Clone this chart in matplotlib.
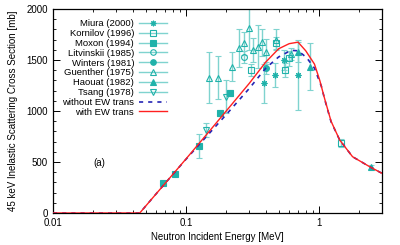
import matplotlib
matplotlib.use("Agg")
import matplotlib.pyplot as plt
from matplotlib.lines import Line2D

plt.rcParams['font.family'] = ['Liberation Sans', 'DejaVu Sans']
plt.rcParams['font.size'] = 7

TEAL = '#20b2aa'
TEAL_LIGHT = '#7fd3cf'

# Evaluated curves
E_red = [0.01, 0.045, 0.07, 0.1, 0.15, 0.2, 0.3, 0.4, 0.5, 0.6, 0.7, 0.8, 0.93, 1.02, 1.11, 1.24, 1.44, 1.8, 2.42, 3.0]
xs_red = [0, 0, 292, 528, 800, 995, 1270, 1480, 1610, 1660, 1675, 1590, 1460, 1300, 1120, 900, 716, 552, 454, 389]
E_blue = [0.01, 0.045, 0.07, 0.1, 0.15, 0.2, 0.3, 0.4, 0.5, 0.62, 0.7, 0.81, 0.93, 1.05, 1.11, 1.24, 1.44, 1.8, 2.42, 3.0]
xs_blue = [0, 0, 292, 525, 780, 960, 1220, 1420, 1530, 1595, 1590, 1525, 1420, 1240, 1115, 895, 716, 552, 454, 389]

# Experimental data
miura_E = [0.39, 0.47, 0.55, 0.70]
miura_y = [1272, 1353, 1500, 1353]
miura_err = [190, 120, 100, 340]

kornilov_E = [0.31, 0.475, 0.56, 0.60, 1.48]
kornilov_y = [1400, 1663, 1402, 1516, 683]
kornilov_err = [60, 60, 70, 70, 40]

moxon_E = [0.0675, 0.0826, 0.126, 0.18, 0.214]
moxon_y = [291, 382, 657, 977, 1173]
moxon_err = [15, 15, 120, 30, 30]

litv_E = [0.273]
litv_y = [1533]
litv_err = [60]

winters_E = [0.40]
winters_y = [1418]
winters_err = [60]

guenther_E = [0.150, 0.175, 0.224, 0.252, 0.273, 0.299, 0.321, 0.35, 0.377, 0.40, 0.475, 0.62]
guenther_y = [1327, 1327, 1435, 1615, 1663, 1810, 1598, 1630, 1673, 1581, 1700, 1560]
guenther_err = [250, 210, 140, 185, 115, 210, 120, 210, 130, 120, 100, 60]

haouat_E = [0.70, 0.86, 2.49]
haouat_y = [1577, 1435, 454]
haouat_err = [100, 230, 20]

tsang_E = [0.143, 0.20]
tsang_y = [814, 1140]
tsang_err = [70, 160]

fig = plt.figure(figsize=(4.0, 2.45), dpi=100)
ax = fig.add_axes([53/400, (245-213)/245, (382-53)/400, (213-9)/245])

datasets = [
    ("Miura (2000)", miura_E, miura_y, miura_err, (8, 2, 0), 'none'),
    ("Kornilov (1996)", kornilov_E, kornilov_y, kornilov_err, 's', 'none'),
    ("Moxon (1994)", moxon_E, moxon_y, moxon_err, 's', TEAL),
    ("Litvinskii (1985)", litv_E, litv_y, litv_err, 'o', 'none'),
    ("Winters (1981)", winters_E, winters_y, winters_err, 'o', TEAL),
    ("Guenther (1975)", guenther_E, guenther_y, guenther_err, '^', 'none'),
    ("Haouat (1982)", haouat_E, haouat_y, haouat_err, '^', TEAL),
    ("Tsang (1978)", tsang_E, tsang_y, tsang_err, 'v', 'none'),
]

handles = []
for label, E, y, err, m, fc in datasets:
    ax.errorbar(E, y, yerr=err, fmt='none', ecolor=TEAL_LIGHT, elinewidth=1.0,
                capsize=2.0, capthick=0.8, zorder=2)
    ax.plot(E, y, linestyle='none', marker=m, markersize=4.2, markeredgewidth=0.8,
            markerfacecolor=fc, markeredgecolor=TEAL, color=TEAL, zorder=3)
    handles.append(Line2D([], [], color=TEAL_LIGHT, lw=1.0, marker=m, markersize=4,
                          markerfacecolor=fc, markeredgecolor=TEAL, markeredgewidth=0.8))

ax.plot(E_blue, xs_blue, color='#2424b4', lw=1.2, linestyle=(0, (2.5, 3)), zorder=4)
ax.plot(E_red, xs_red, color='#ff2020', lw=1.0, zorder=5)
handles += [Line2D([], [], color='#2424b4', lw=1.2, linestyle=(0, (2.5, 3))),
            Line2D([], [], color='#ff2020', lw=1.0)]
labels = [d[0] for d in datasets] + ["without EW trans", "with EW trans"]

ax.set_xscale('log')
ax.set_xlim(0.01, 3.0)
ax.set_ylim(0, 2000)
ax.set_yticks([0, 500, 1000, 1500, 2000])
ax.set_yticks(range(0, 2001, 100), minor=True)
ax.set_xticks([0.01, 0.1, 1])
ax.set_xticklabels(["0.01", "0.1", "1"])
ax.tick_params(which='both', direction='in', top=True, right=True, labelsize=7)
ax.tick_params(which='major', length=5, width=0.7)
ax.tick_params(which='minor', length=2.5, width=0.6)
for s in ax.spines.values():
    s.set_linewidth(0.9)

ax.set_xlabel("Neutron Incident Energy [MeV]", fontsize=7, labelpad=3)
ax.set_ylabel("45 keV Inelastic Scattering Cross Section [mb]", fontsize=7, labelpad=6)

ax.text(0.0223, 487, "(a)", fontsize=7, ha='center', va='center')

leg = ax.legend(handles, labels, loc='upper right', bbox_to_anchor=(0.35, 0.955),
                markerfirst=False, frameon=False, fontsize=6.8, handlelength=3.0,
                handletextpad=0.5, labelspacing=0.09, borderpad=0.1,
                borderaxespad=0.0)

fig.savefig("out.png", dpi=100)
